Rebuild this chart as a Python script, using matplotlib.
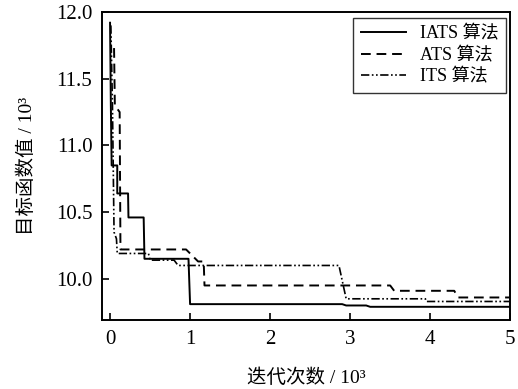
import matplotlib
matplotlib.use("Agg")
import matplotlib.pyplot as plt

plt.rcParams['font.family'] = ['Liberation Serif', 'Noto Sans CJK SC']
plt.rcParams['mathtext.fontset'] = 'stix'

# iterations (x10^3) and objective values (x10^3)
iats_x = [0.0, 0.01, 0.02, 0.09, 0.09, 0.225, 0.23, 0.42, 0.43, 0.98, 1.0, 2.9, 2.95, 3.2, 3.25, 5.0]
iats_y = [11.92, 11.3, 10.85, 10.85, 10.64, 10.64, 10.46, 10.46, 10.15, 10.15, 9.81, 9.81, 9.80, 9.80, 9.79, 9.79]

ats_x = [0.05, 0.06, 0.12, 0.13, 0.95, 1.1, 1.17, 1.18, 3.5, 3.55, 4.3, 4.35, 5.0]
ats_y = [11.73, 11.3, 11.25, 10.22, 10.22, 10.13, 10.13, 9.95, 9.95, 9.91, 9.91, 9.86, 9.86]

its_x = [0.01, 0.03, 0.05, 0.08, 0.09, 0.48, 0.5, 0.8, 0.85, 2.86, 2.95, 3.94, 3.95, 5.0]
its_y = [11.9, 11.3, 10.35, 10.30, 10.19, 10.19, 10.14, 10.14, 10.10, 10.10, 9.85, 9.85, 9.83, 9.83]

labels = ['IATS 算法', 'ATS 算法', 'ITS 算法']
xticks = [0, 1, 2, 3, 4, 5]
yticks = [10.0, 10.5, 11.0, 11.5, 12.0]

fig = plt.figure(figsize=(5.18, 3.89), dpi=100)
ax = fig.add_axes([0.197, 0.177, 0.788, 0.792])

ax.plot(iats_x, iats_y, color='black', lw=1.4, ls='-', label=labels[0])
ax.plot(ats_x, ats_y, color='black', lw=1.4, ls=(0, (5, 3)), label=labels[1])
ax.plot(its_x, its_y, color='black', lw=1.2, ls=(0, (5, 1.5, 1, 1.5, 1, 1.5)), label=labels[2])

ax.set_xlim(-0.1, 5.0)
ax.set_ylim(9.69, 12.0)
ax.set_xticks(xticks)
ax.set_xticklabels([str(v) for v in xticks])
ax.set_yticks(yticks)
ax.set_yticklabels([f'{v:.1f}' for v in yticks])
ax.tick_params(direction='in', length=5, width=1.2, labelsize=15, pad=7)
for s in ax.spines.values():
    s.set_linewidth(1.4)

ax.set_xlabel('迭代次数 / 10³', fontsize=14, labelpad=14)
ax.set_ylabel('目标函数值 / 10³', fontsize=14, labelpad=14)

leg = ax.legend(loc='upper right', fontsize=13, frameon=True, fancybox=False,
                edgecolor='black', handlelength=2.5, borderpad=0.4,
                labelspacing=0.25, handletextpad=0.8, borderaxespad=0,
                bbox_to_anchor=(0.99, 0.98))
leg.get_frame().set_linewidth(1.0)

fig.savefig('out.png', dpi=100)
